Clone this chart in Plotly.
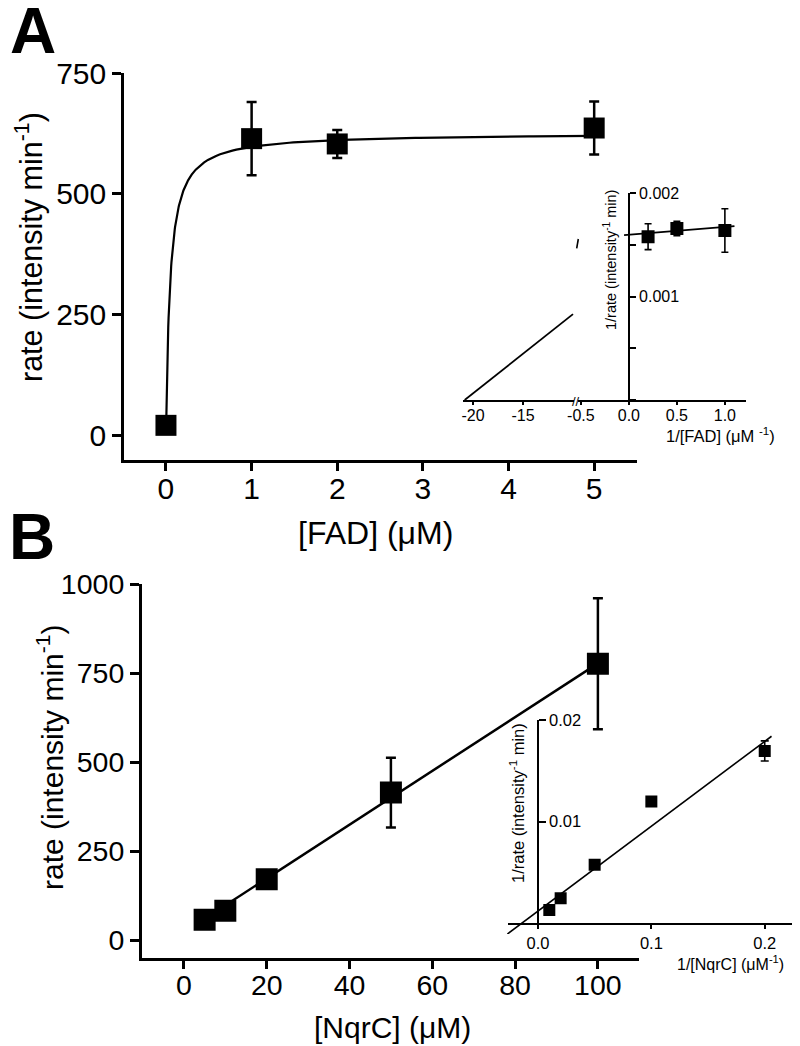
import numpy as np
import plotly.graph_objects as go

W, H = 800, 1046
OFF = 8  # the page body has an 8px margin; positions below are page pixels
FONT = "Liberation Sans, Arial, sans-serif"


def X(p):
    return (p - OFF) / W


def Y(p):
    return 1 - (p - OFF) / H


# ---------------- Panel A data ----------------
fad_conc = [0, 1, 2, 5]
fad_rate = [20, 614, 603, 636]
fad_err = [0, 76, 29, 55]
FAD_VMAX = 625.7   # Michaelis-Menten fit parameters
FAD_KM = 0.048

# Inset A (double reciprocal)
fad_inv = [0.2, 0.5, 1.0]
fad_inv_rate = [0.00158, 0.00166, 0.00164]
fad_inv_err = [0.000125, 0.00007, 0.00021]

# ---------------- Panel B data ----------------
nqrc_conc = [5, 10, 20, 50, 100]
nqrc_rate = [57, 82, 171, 414, 776]
nqrc_err = [8, 8, 8, 98, 184]
NQRC_INTERCEPT = 22
NQRC_SLOPE = 7.55

# Inset B (double reciprocal)
nqrc_inv = [0.01, 0.02, 0.05, 0.1, 0.2]
nqrc_inv_rate = [0.00131, 0.00247, 0.00576, 0.01197, 0.01696]
nqrc_inv_err = [0.0002, 0.0002, 0.0002, 0.0003, 0.00099]
LB_INTERCEPT = 0.0012
LB_SLOPE = 0.0835

# tick labels
a_xticks = [0, 1, 2, 3, 4, 5]
a_yticks = [0, 250, 500, 750]
ai_right_ticks = [-0.5, 0.0, 0.5, 1.0]
ai_right_text = ["-0.5", "0.0", "0.5", "1.0"]
ai_left_ticks = [-20, -15]
ai_left_text = ["-20", "-15"]
ai_yticks = [0.001, 0.002]
ai_ytext = ["0.001", "0.002"]
b_xticks = [0, 20, 40, 60, 80, 100]
b_yticks = [0, 250, 500, 750, 1000]
bi_xticks = [0.0, 0.1, 0.2]
bi_xtext = ["0.0", "0.1", "0.2"]
bi_yticks = [0.01, 0.02]
bi_ytext = ["0.01", "0.02"]

fig = go.Figure()

# ---- Panel A main: fitted hyperbola + points ----
fit_x = np.concatenate([np.linspace(0, 0.3, 80), np.linspace(0.3, 5, 100)])
fit_y = FAD_VMAX * fit_x / (FAD_KM + fit_x)
fig.add_trace(go.Scatter(x=fit_x, y=fit_y, mode="lines",
                         line=dict(color="black", width=2.2),
                         xaxis="x", yaxis="y", hoverinfo="skip"))
fig.add_trace(go.Scatter(x=fad_conc, y=fad_rate, mode="markers",
                         marker=dict(symbol="square", size=21, color="black"),
                         error_y=dict(type="data", array=fad_err, color="black",
                                      thickness=2.5, width=5),
                         xaxis="x", yaxis="y"))

# ---- Inset A: Lineweaver-Burk, broken x axis ----
lb_a_int = 1 / FAD_VMAX
lb_a_slope = FAD_KM / FAD_VMAX
left_x = np.array([-1 / FAD_KM, -10.0])
fig.add_trace(go.Scatter(x=left_x, y=lb_a_int + lb_a_slope * left_x, mode="lines",
                         line=dict(color="black", width=1.8),
                         xaxis="x3", yaxis="y3", hoverinfo="skip"))
right_x = np.array([-0.05, 1.1])
fig.add_trace(go.Scatter(x=right_x, y=lb_a_int + lb_a_slope * right_x, mode="lines",
                         line=dict(color="black", width=1.8),
                         xaxis="x2", yaxis="y2", hoverinfo="skip"))
fig.add_trace(go.Scatter(x=fad_inv, y=fad_inv_rate, mode="markers",
                         marker=dict(symbol="square", size=13, color="black"),
                         error_y=dict(type="data", array=fad_inv_err, color="black",
                                      thickness=1.6, width=3.5),
                         xaxis="x2", yaxis="y2"))

# ---- Panel B main ----
b_line_x = np.array([5, 100])
fig.add_trace(go.Scatter(x=b_line_x, y=NQRC_INTERCEPT + NQRC_SLOPE * b_line_x,
                         mode="lines", line=dict(color="black", width=2.5),
                         xaxis="x4", yaxis="y4", hoverinfo="skip"))
fig.add_trace(go.Scatter(x=nqrc_conc, y=nqrc_rate, mode="markers",
                         marker=dict(symbol="square", size=22, color="black"),
                         error_y=dict(type="data", array=nqrc_err, color="black",
                                      thickness=2.5, width=5),
                         xaxis="x4", yaxis="y4"))

# ---- Inset B ----
bi_line_x = np.array([-0.027, 0.206])
fig.add_trace(go.Scatter(x=bi_line_x, y=LB_INTERCEPT + LB_SLOPE * bi_line_x,
                         mode="lines", line=dict(color="black", width=1.6),
                         xaxis="x6", yaxis="y6", hoverinfo="skip"))
fig.add_trace(go.Scatter(x=nqrc_inv, y=nqrc_inv_rate, mode="markers",
                         marker=dict(symbol="square", size=12, color="black"),
                         error_y=dict(type="data", array=nqrc_inv_err, color="black",
                                      thickness=1.6, width=4),
                         xaxis="x5", yaxis="y5"))

common = dict(showgrid=False, zeroline=False, showline=True, linecolor="black",
              ticks="outside", tickcolor="black", fixedrange=True, automargin=False)
hidden = dict(visible=False, fixedrange=True, automargin=False, showgrid=False,
              zeroline=False, showticklabels=False)

main_tick = dict(family=FONT, size=30, color="black")
main_tick_b = dict(family=FONT, size=28.5, color="black")
inset_tick = dict(family=FONT, size=16, color="black")
inset_tick_b = dict(family=FONT, size=16.5, color="black")

fig.update_layout(
    template="none",
    width=W, height=H,
    autosize=False,
    margin=dict(l=0, r=0, t=0, b=0, pad=0, autoexpand=False),
    paper_bgcolor="white", plot_bgcolor="rgba(0,0,0,0)",
    showlegend=False,
    font=dict(family=FONT, color="black"),
    # Panel A main
    xaxis=dict(**common, domain=[X(124), X(637)], range=[-0.49, 5.5], anchor="y",
               tickvals=a_xticks, linewidth=2.5, tickwidth=2.5, ticklen=8,
               tickfont=main_tick, ticklabelstandoff=-8),
    yaxis=dict(**common, domain=[Y(460), Y(73)], range=[-51.8, 750], anchor="x",
               tickvals=a_yticks, linewidth=2.5, tickwidth=2.5, ticklen=9,
               tickfont=main_tick),
    # Inset A right segment
    xaxis2=dict(**common, domain=[X(578), X(746)], range=[-0.53, 1.22], anchor="y2",
                tickvals=ai_right_ticks, ticktext=ai_right_text, linewidth=1.8,
                tickwidth=1.5, ticklen=3, tickfont=inset_tick, ticklabelstandoff=-3),
    yaxis2=dict(**common, domain=[Y(400), Y(193.3)], range=[0, 0.002], anchor="free",
                position=X(629), side="right", tickvals=ai_yticks, ticktext=ai_ytext,
                linewidth=1.8, tickwidth=1.5, ticklen=6, tickfont=inset_tick,
                minor=dict(dtick=0.0005, tick0=0, ticks="outside", ticklen=6,
                           tickwidth=1.5, tickcolor="black", showgrid=False)),
    # Inset A left segment
    xaxis3=dict(**common, domain=[X(463), X(574)], range=[-21, -9.9], anchor="y3",
                tickvals=ai_left_ticks, ticktext=ai_left_text, linewidth=1.8,
                tickwidth=1.5, ticklen=3, tickfont=inset_tick, ticklabelstandoff=-3),
    yaxis3=dict(**hidden, domain=[Y(400), Y(193.3)], range=[0, 0.002], anchor="x3"),
    # Panel B main
    xaxis4=dict(**common, domain=[X(141.7), X(639.3)], range=[-10.2, 110], anchor="y4",
                tickvals=b_xticks, linewidth=2.5, tickwidth=2.5, ticklen=8,
                tickfont=main_tick_b, ticklabelstandoff=-8),
    yaxis4=dict(**common, domain=[Y(958.3), Y(584)], range=[-51.4, 1000], anchor="x4",
                tickvals=b_yticks, linewidth=2.5, tickwidth=2.5, ticklen=9,
                tickfont=main_tick_b),
    # Inset B
    xaxis5=dict(**common, domain=[X(508.3), X(795)], range=[-0.02617, 0.2267], anchor="y5",
                tickvals=bi_xticks, ticktext=bi_xtext, linewidth=1.6,
                tickwidth=1.5, ticklen=4, tickfont=inset_tick_b),
    yaxis5=dict(**common, domain=[Y(923.3), Y(720)], range=[0, 0.02], anchor="free",
                position=X(538), side="right", tickvals=bi_yticks, ticktext=bi_ytext,
                linewidth=1.6, tickwidth=1.5, ticklen=7, tickfont=inset_tick_b),
    # Inset B overflow for fit line (invisible)
    xaxis6=dict(**hidden, domain=[X(505), X(795)], range=[-0.02907, 0.2267], anchor="y6"),
    yaxis6=dict(**hidden, domain=[Y(934), Y(720)], range=[-0.00105, 0.02], anchor="x6"),
)

ann = []


def add_text(text, px, py, size, angle=0, bold=False, xanchor="center"):
    ann.append(dict(text=("<b>%s</b>" % text) if bold else text,
                    x=X(px), y=Y(py), xref="paper", yref="paper",
                    xanchor=xanchor, yanchor="middle", showarrow=False,
                    textangle=angle,
                    font=dict(family=FONT, size=size, color="black")))


add_text("A", 33, 31, 64, bold=True)
add_text("B", 32, 537, 64, bold=True)
add_text("rate (intensity min<sup>-1</sup>)", 30, 247, 30.5, angle=-90)
add_text("[FAD] (\u03bcM)", 375, 533, 32)
add_text("rate (intensity min<sup>-1</sup>)", 50, 758, 30, angle=-90)
add_text("[NqrC] (\u03bcM)", 392, 1027, 30)
add_text("1/rate (intensity<sup>-1</sup> min)", 610, 260, 14.5, angle=-90)
add_text("1/[FAD] (\u03bcM <sup>-1</sup>)", 720, 435, 16.5)
add_text("//", 576, 401, 13)
add_text("1/rate (intensity<sup>-1</sup> min)", 517, 803, 16.5, angle=-90)
add_text("1/[NqrC] (\u03bcM<sup>-1</sup>)", 730, 963, 16)

fig.update_layout(annotations=ann)

fig.add_shape(type="line", xref="paper", yref="paper",
              x0=X(578.3), y0=Y(239), x1=X(576.7), y1=Y(248.3),
              line=dict(color="black", width=1.6))

fig.write_html("out.html")
